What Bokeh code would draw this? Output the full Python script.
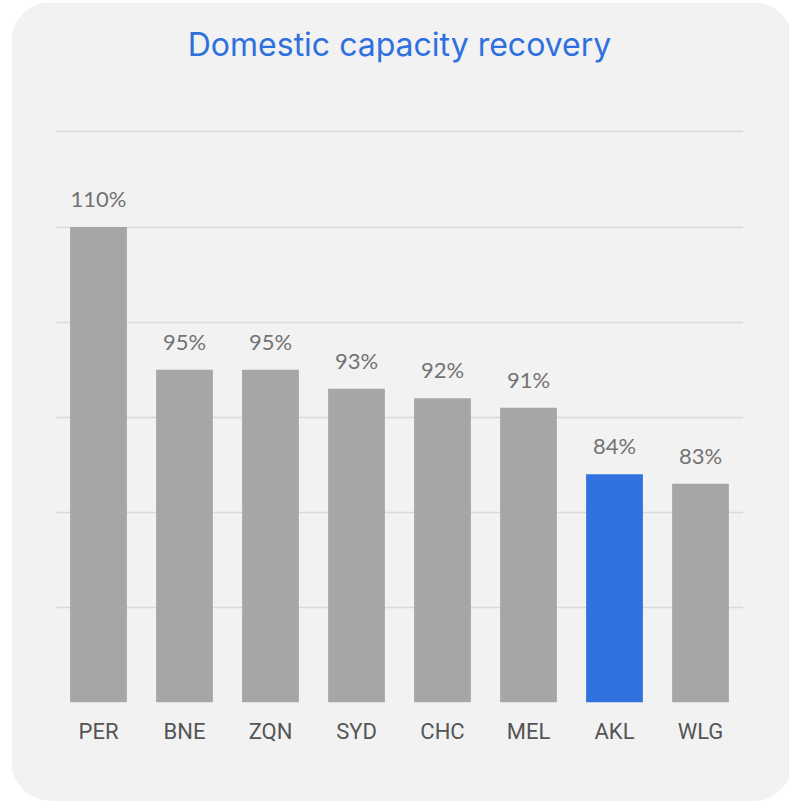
from bokeh.plotting import figure
from bokeh.models import FactorRange, Range1d, FixedTicker, ColumnDataSource, LabelSet
from bokeh.core.properties import value
from bokeh.embed import file_html
from bokeh.resources import INLINE

airports = ["PER", "BNE", "ZQN", "SYD", "CHC", "MEL", "AKL", "WLG"]
recovery = [110, 95, 95, 93, 92, 91, 84, 83]
labels = ["110%", "95%", "95%", "93%", "92%", "91%", "84%", "83%"]
highlight = "AKL"
grid_ticks = [60, 70, 80, 90, 100, 110, 120]

GRAY = "#a6a6a6"
BLUE = "#2f72e0"
BG = "#f2f2f2"

colors = [BLUE if a == highlight else GRAY for a in airports]
src = ColumnDataSource(dict(x=airports, top=recovery, label=labels, color=colors))

p = figure(width=782, height=799, x_range=FactorRange(*airports, range_padding=0),
           y_range=Range1d(60, 125.1), output_backend="svg", toolbar_location=None,
           title="Domestic capacity recovery",
           min_border_left=44, min_border_right=50, min_border_bottom=99, min_border_top=20)
p.margin = (2, 0, 0, 11)

p.vbar(x="x", top="top", bottom=60, width=0.66, color="color", source=src, line_color=None)

p.add_layout(LabelSet(x="x", y="top", text="label", source=src, text_align="center",
                      text_baseline="bottom", y_offset=15, text_font_size="22px",
                      text_font=value("Lato"), text_color="#737373"))

p.title.align = "center"
p.title.text_font = "Inter"
p.title.text_font_style = "normal"
p.title.text_font_size = "32px"
p.title.text_color = "#2e71de"
p.title.standoff = 40

p.background_fill_color = BG
p.border_fill_color = BG
p.outline_line_color = None
p.styles = {"border-radius": "40px", "overflow": "hidden"}

p.yaxis.visible = False
p.yaxis.ticker = FixedTicker(ticks=grid_ticks)
p.ygrid.ticker = FixedTicker(ticks=grid_ticks)
p.ygrid.grid_line_color = "#d9d9d9"
p.ygrid.grid_line_width = 1.5
p.xgrid.grid_line_color = None

p.xaxis.axis_line_color = None
p.xaxis.major_tick_line_color = None
p.xaxis.minor_tick_line_color = None
p.xaxis.major_label_text_font = "Roboto"
p.xaxis.major_label_text_font_size = "22px"
p.xaxis.major_label_text_color = "#555555"
p.xaxis.major_label_standoff = 10

open("out.html", "w").write(file_html(p, INLINE))
